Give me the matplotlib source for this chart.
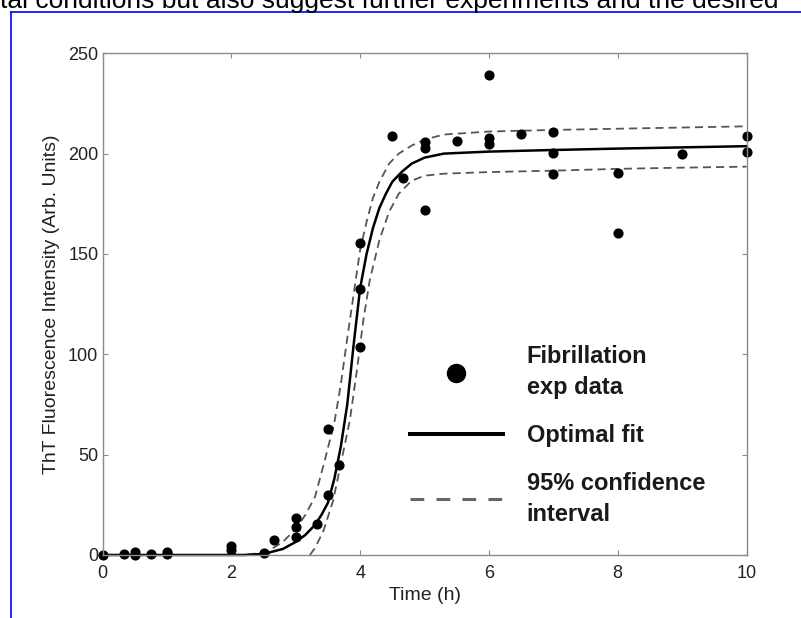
"""
ThT fluorescence vs time: fibrillation data, optimal fit and 95% confidence band.
"""

import matplotlib
matplotlib.use("Agg")
import matplotlib.pyplot as plt
from matplotlib.lines import Line2D

plt.rcParams["font.family"] = ["Liberation Sans", "DejaVu Sans"]

exp_time = [0, 0.33, 0.5, 0.5, 0.75, 1.0, 1.0, 2.0, 2.0, 2.5, 2.67,
            3.0, 3.0, 3.0, 3.33, 3.5, 3.5, 3.67, 4.0, 4.0, 4.0,
            4.5, 4.67, 5.0, 5.0, 5.0, 5.5, 6.0, 6.0, 6.0, 6.5,
            7.0, 7.0, 7.0, 8.0, 8.0, 9.0, 10.0, 10.0]
exp_tht = [0, 0.3, 1.6, 0, 0.5, 1.3, 0.5, 4.6, 2.5, 1.2, 7.5,
           18.6, 13.8, 9.1, 15.4, 62.6, 29.9, 44.7, 155.5, 132.5, 103.6,
           208.7, 187.6, 205.8, 203.0, 171.8, 206.3, 239.0, 208.0, 204.7, 209.7,
           210.8, 200.5, 189.6, 190.4, 160.5, 199.7, 208.7, 200.8]

# Optimal fit curve
fit_time = [0, 2.2, 2.5, 2.8, 3.0, 3.15, 3.3, 3.4, 3.5, 3.6, 3.7, 3.8, 3.9,
            4.0, 4.1, 4.2, 4.3, 4.4, 4.5, 4.65, 4.8, 5.0, 5.3, 6, 7, 8, 9, 10]
fit_tht = [0, 0, 0.5, 3, 6.5, 10, 15, 20, 26, 38, 54, 75, 105,
           133, 150, 163, 173, 180, 186, 191, 195, 198, 200, 201, 201.8, 202.5, 203.1, 203.7]

# 95% confidence band (upper / lower)
upper_time = [0, 2.2, 2.4, 2.6, 2.8, 3.0, 3.15, 3.3, 3.45, 3.6, 3.7, 3.8, 3.9,
              4.0, 4.1, 4.2, 4.3, 4.45, 4.6, 4.8, 5.0, 5.3, 6, 7, 8, 9, 10]
upper_tht = [0, 0, 0.8, 2.5, 6.5, 13, 20, 29, 47, 66, 85, 108, 130,
             152, 166, 178, 186, 195, 200, 204, 207, 209.5, 211, 211.8, 212.4, 213, 213.6]
lower_time = [3.22, 3.3, 3.43, 3.58, 3.71, 3.84, 3.95, 4.05, 4.15, 4.3, 4.45,
              4.6, 4.8, 5.0, 5.3, 6, 7, 8, 9, 10]
lower_tht = [0, 3.5, 12, 27, 47, 67, 92, 117, 137, 157, 171,
             180, 186.5, 189, 190, 190.8, 191.5, 192.4, 193, 193.5]

legend_labels = ["Fibrillation\nexp data", "Optimal fit", "95% confidence\ninterval"]

AXIS_GRAY = "#8a8a8a"

fig = plt.figure(figsize=(8.01, 6.18), dpi=100)
ax = fig.add_axes([0.128, 0.102, 0.804, 0.8118])

ax.plot(upper_time, upper_tht, color="#555555", lw=1.3, dashes=(4.5, 2.8), clip_on=False)
ax.plot(lower_time, lower_tht, color="#555555", lw=1.3, dashes=(4.5, 2.8), clip_on=False)
ax.plot(fit_time, fit_tht, color="black", lw=1.8, clip_on=False)
ax.plot(exp_time, exp_tht, "o", color="black", ms=6.3, clip_on=False)

ax.set_xlim(0, 10)
ax.set_ylim(0, 250)
ax.set_xticks([0, 2, 4, 6, 8, 10])
ax.set_yticks([0, 50, 100, 150, 200, 250])

for sp in ax.spines.values():
    sp.set_color(AXIS_GRAY)
    sp.set_linewidth(1.0)
ax.tick_params(direction="in", length=3.6, width=0.8, color=AXIS_GRAY,
               top=True, right=True, labelsize=13, labelcolor="#222222")
ax.tick_params(axis="x", pad=7)
ax.tick_params(axis="y", pad=3)

ax.set_xlabel("Time (h)", fontsize=14, color="#222222", labelpad=4)
ax.set_ylabel("ThT Fluorescence Intensity (Arb. Units)", fontsize=14,
              color="#222222", labelpad=6)

handles = [
    Line2D([], [], marker="o", ls="none", ms=13, color="black"),
    Line2D([], [], color="black", lw=2.9),
    Line2D([], [], color="#666666", lw=2.2, ls=(0, (4.5, 4.0))),
]
leg = ax.legend(handles, legend_labels, loc="upper left",
                bbox_to_anchor=(0.4773, 0.4186), frameon=False,
                borderpad=0, borderaxespad=0, handlelength=3.94,
                handletextpad=1.0, labelspacing=1.05,
                prop={"family": "Liberation Sans", "weight": "bold", "size": 17})
for t in leg.get_texts():
    t.set_linespacing(1.45)
    t.set_color("#1a1a1a")

# cropped running text above the figure and the blue frame of the page
fig.text(0.0, 610 / 618, "tal conditions but also suggest further experiments and the desired",
         fontsize=19, color="black", va="baseline", ha="left")
fig.add_artist(Line2D([10.5 / 801, 1.0], [1 - 11.5 / 618, 1 - 11.5 / 618],
                      color="#0000ff", lw=1.2, transform=fig.transFigure))
fig.add_artist(Line2D([10.5 / 801, 10.5 / 801], [0, 1 - 11.5 / 618],
                      color="#0000ff", lw=1.2, transform=fig.transFigure))

fig.savefig("out.png", dpi=100)
